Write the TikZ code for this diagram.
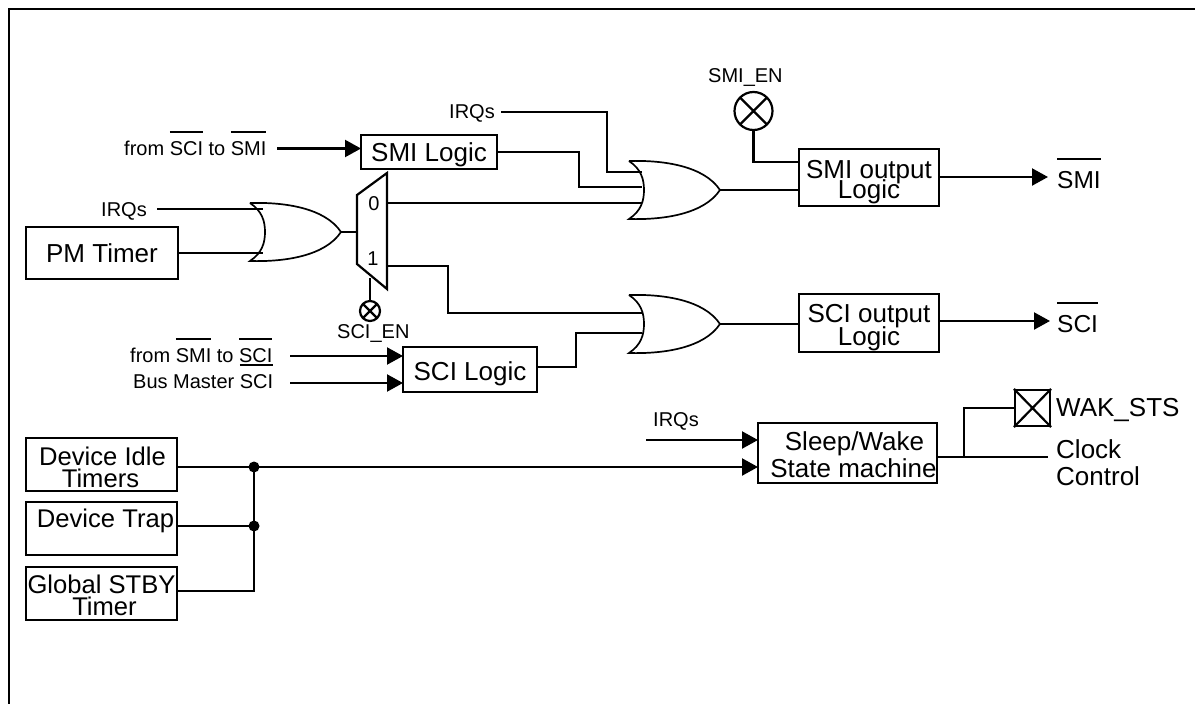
\documentclass[tikz,border=0pt]{standalone}
\usepackage{fontspec}
\setmainfont{Liberation Sans}
\usetikzlibrary{arrows.meta,calc}
\newcommand\bt[3]{\raisebox{#2}[0pt][0pt]{\makebox[0pt]{\kern#1\kern#1\relax #3}}}
\newcommand\ob[2][22pt]{\sbox0{#2}\makebox[0pt][l]{\raisebox{#1}{\rule{\wd0}{1.8pt}}}\box0\relax}
\newcommand\orgate[2]{%
  \begin{scope}[shift={(#2)}]
    \draw[gate] (0,0) .. controls (35,-1) and (75,5) .. (91,29)
      .. controls (75,53) and (35,59) .. (0,58)
      .. controls (12,50) and (15,40) .. (15,29)
      .. controls (15,18) and (12,8) .. (0,0);
    \coordinate (#1-in) at (13,29);
    \coordinate (#1-out) at (91,29);
  \end{scope}}
\tikzset{
  x=1pt,y=-1pt,
  wire/.style={line width=2.2pt,line join=miter},
  gate/.style={line width=1.7pt},
  arrowwire/.style={wire,-{Triangle[length=16pt,width=17pt]}},
  blockbox/.style={draw,line width=2.2pt,inner sep=0pt,outer sep=0pt,font=\fontsize{26}{26}\selectfont},
  small/.style={anchor=base west,inner sep=0pt,font=\fontsize{20}{20}\selectfont},
  big/.style={anchor=base west,inner sep=0pt,font=\fontsize{26}{26}\selectfont},
  xcirc/.style={draw,circle,line width=2.2pt,inner sep=0pt,outer sep=0pt},
  dotn/.style={circle,fill=black,inner sep=0pt,minimum size=11pt},
}
\begin{document}
\begin{tikzpicture}
\useasboundingbox (0,0) rectangle (1195,704);
\draw[line width=2.2pt] (9,704) -- (9,9) -- (1195,9);

% boxes
\node[blockbox,minimum width=136pt,minimum height=34pt] (smil) at (429,152) {\bt{0pt}{-9pt}{SMI Logic}};
\node[blockbox,minimum width=152pt,minimum height=52pt] (pm) at (102,253) {\bt{0pt}{-9pt}{PM Timer}};
\node[blockbox,minimum width=134pt,minimum height=45pt] (scil) at (470,369.5) {\bt{0pt}{-11pt}{SCI Logic}};
\node[blockbox,minimum width=140pt,minimum height=57pt] (smio) at (869,177.5) {\bt{0pt}{-0.5pt}{SMI output}\bt{0pt}{-20.5pt}{Logic}};
\node[blockbox,minimum width=140pt,minimum height=58pt] (scio) at (869,323) {\bt{0pt}{1pt}{SCI output}\bt{0pt}{-22pt}{Logic}};
\node[blockbox,minimum width=179pt,minimum height=60pt] (sleep) at (847.5,453) {\bt{7pt}{3pt}{Sleep/Wake}\bt{6pt}{-24pt}{State machine}};
\node[blockbox,minimum width=151pt,minimum height=53pt,font=\fontsize{25.6}{26}\selectfont] (idle) at (101.5,464.5) {\bt{1pt}{-0.5pt}{Device Idle}\bt{-1pt}{-22.5pt}{Timers}};
\node[blockbox,minimum width=151pt,minimum height=53pt,font=\fontsize{25.6}{26}\selectfont] (trap) at (101.5,528.5) {\bt{4pt}{1.5pt}{Device Trap}};
\node[blockbox,minimum width=151pt,minimum height=53pt,font=\fontsize{25.6}{26}\selectfont] (stby) at (101.5,593.5) {\bt{0pt}{0.5pt}{Global STBY}\bt{3pt}{-21.5pt}{Timer}};

% mux
\draw[wire] (357,195) -- (387,173) -- (387,289) -- (357,264) -- cycle;
\coordinate (mux-in) at (357,232);
\coordinate (mux0) at (388,203);
\coordinate (mux1) at (388,266);
\coordinate (mux-sel) at (370,278);
\node[small,anchor=base] (m0) at (374,210) {0};
\node[small,anchor=base] (m1) at (373,265) {1};

% gates
\orgate{ora}{250,203}
\orgate{orb}{629,161}
\orgate{orc}{629,295}

% marked circles and square
\node[xcirc,minimum size=38pt] (smien) at (753.5,111) {};
\draw[wire] (smien.45) -- (smien.225) (smien.135) -- (smien.315);
\node[xcirc,minimum size=20pt] (scien) at (370,311) {};
\draw[wire] (scien.45) -- (scien.225) (scien.135) -- (scien.315);
\node[draw,line width=2.2pt,inner sep=0pt,minimum width=35pt,minimum height=36pt] (wak) at (1032.5,408) {};
\draw[wire] (wak.north west) -- (wak.south east) (wak.north east) -- (wak.south west);

% labels
\node[small] (t1) at (124,155) {from \ob{SCI} to \ob{SMI}};
\node[small] (t2) at (101,216) {IRQs};
\node[small] (t3) at (449,118) {IRQs};
\node[small] (t4) at (708,82) {SMI\_EN};
\node[small] (t5) at (337,338) {SCI\_EN};
\node[small] (t6) at (130,362) {from \ob{SMI} to \ob{SCI}};
\node[small] (t7) at (133,388) {Bus Master \ob{SCI}};
\node[small] (t8) at (653,426) {IRQs};
\node[big,font=\fontsize{24.5}{24.5}\selectfont] (t9) at (1057,188) {\ob[28pt]{SMI}};
\node[big,font=\fontsize{24.5}{24.5}\selectfont] (t10) at (1057,332) {\ob[28pt]{SCI}};
\node[big] (t11) at (1056,416) {WAK\_STS};
\node[big] (t12) at (1056,458) {Clock};
\node[big] (t13) at (1056,485) {Control};

% free ends
\coordinate (a1s) at (277,148.5);
\coordinate (a2s) at (157,209);
\coordinate (a3s) at (501,112);
\coordinate (a4s) at (290,356);
\coordinate (a5s) at (290,383);
\coordinate (a6s) at (646,440);
\coordinate (smiout) at (1048,177);
\coordinate (sciout) at (1050,321);
\coordinate (clk) at (1048,457);
\coordinate (j1) at (254,467);
\coordinate (j2) at (254,526);

% connectors
\draw[arrowwire] (a1s) -- (a1s -| smil.west);
\draw[wire] (a2s) -- (a2s -| ora-in);
\draw[wire] (pm.east) -- (pm.east -| ora-in);
\draw[wire] (ora-out) -- (mux-in);
\draw[wire] (mux0) -- (mux0 -| orb-in);
\draw[wire] (mux1) -- (448,266) -- (448,313) -- (orc-in |- 0,313);
\draw[wire] (mux-sel) -- (scien.north);
\draw[wire] (a3s) -- (607,112) -- (607,172) -- (orb-in |- 0,172);
\draw[wire] (smil.east) -- (579,152) -- (579,187) -- (orb-in |- 0,187);
\draw[wire] (orb-out) -- (smio.west |- orb-out);
\draw[wire] (smien.south) -- (753.5,162) -- (smio.west |- 0,162);
\draw[arrowwire] (smio.east |- smiout) -- (smiout);
\draw[arrowwire] (a4s) -- (a4s -| scil.west);
\draw[arrowwire] (a5s) -- (a5s -| scil.west);
\draw[wire] (scil.east |- 0,367) -- (576,367) -- (576,333) -- (orc-in |- 0,333);
\draw[wire] (orc-out) -- (scio.west |- orc-out);
\draw[arrowwire] (scio.east |- sciout) -- (sciout);
\draw[arrowwire] (a6s) -- (a6s -| sleep.west);
\draw[arrowwire] (idle.east |- j1) -- (sleep.west |- j1);
\draw[wire] (trap.east |- j2) -- (j2);
\draw[wire] (stby.east |- 0,591) -- (254,591) -- (j1);
\node[dotn] (d1) at (j1) {};
\node[dotn] (d2) at (j2) {};
\draw[wire] (sleep.east |- clk) -- (clk);
\draw[wire] (964,457) -- (964,408) -- (wak.west);
\end{tikzpicture}
\end{document}
